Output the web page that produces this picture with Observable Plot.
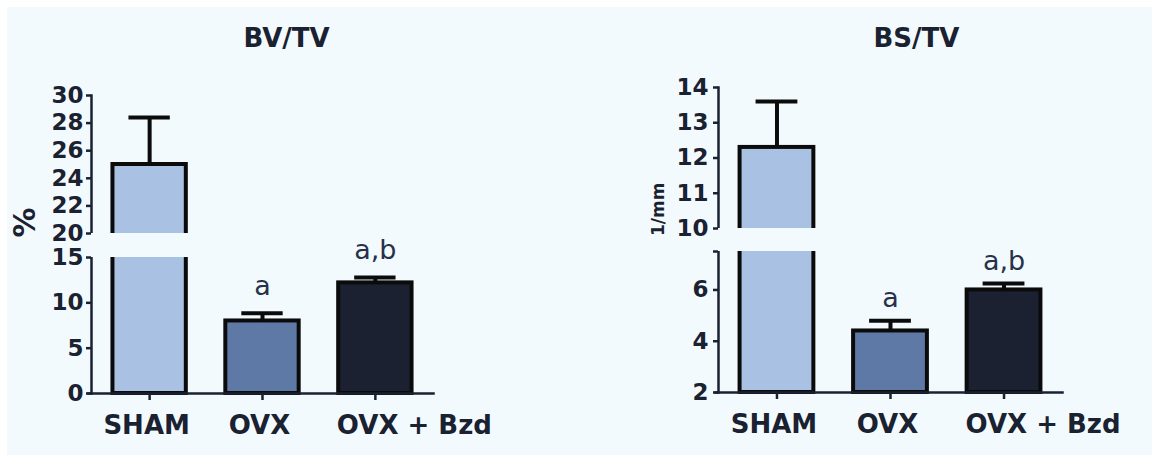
<!DOCTYPE html>
<html><head><meta charset="utf-8">
<script src="https://cdn.jsdelivr.net/npm/d3@7"></script>
<script src="https://cdn.jsdelivr.net/npm/@observablehq/plot@0.6"></script>
<style>
html,body{margin:0;padding:0;background:#fff;}
#wrap{position:relative;width:1152px;height:457px;overflow:hidden;}
#bg{position:absolute;left:7px;top:7px;width:1145px;height:448px;background:#f3fafd;}
.panel{position:absolute;top:0;}
</style></head><body>
<div id="wrap"><div id="bg"></div><div id="p1" class="panel" style="left:0"></div><div id="p2" class="panel" style="left:576px"></div></div>
<script>
const groups = ["SHAM", "OVX", "OVX + Bzd"];
const barColors = ["#a9c1e3", "#5f79a7", "#1b2130"];
const letters = ["", "a", "a,b"];

const bvtvMean = [25.0, 8.0, 12.2];
const bvtvSem = [3.4, 0.85, 0.6];
const bvtvTicks = [0, 5, 10, 15, 20, 22, 24, 26, 28, 30];
const bvtvBreak = [15, 20];
const bvtvExtent = [0, 30];

const bstvMean = [12.3, 4.4, 6.0];
const bstvSem = [1.3, 0.4, 0.25];
const bstvTicks = [2, 4, 6, 7.5, 10, 11, 12, 13, 14];
const bstvBreak = [7.5, 10];
const bstvExtent = [2, 14];

const BG = "#f3fafd";
const INK = "#0b0b0b";
const AXIS = "#1a2130";
const FONT = "DejaVu Sans";

function panel(cfg) {
  const data = groups.map((g, i) => ({group: g, mean: cfg.mean[i], top: cfg.mean[i] + cfg.sem[i], letter: letters[i]}));
  return Plot.plot({
    width: 576, height: 457,
    marginLeft: cfg.ml, marginRight: cfg.mr, marginTop: cfg.mt, marginBottom: cfg.mb,
    style: {background: "transparent", fontFamily: FONT, color: AXIS, overflow: "visible"},
    x: {type: "band", domain: groups, paddingInner: 0.35, paddingOuter: 0.19, round: false, axis: null, label: null},
    y: {type: "linear", domain: [cfg.extent[0], cfg.brk[0], cfg.brk[1], cfg.extent[1]], range: cfg.range, axis: null, label: null},
    color: {domain: groups, range: barColors},
    marks: [
      Plot.barY(data, {x: "group", y1: cfg.extent[0], y2: "mean", fill: "group", stroke: INK, strokeWidth: 4}),
      Plot.ruleX(data, {x: "group", y1: "mean", y2: "top", stroke: INK, strokeWidth: 4}),
      Plot.tickY(data, {x: "group", y: "top", stroke: INK, strokeWidth: 4, inset: 16}),
      Plot.frame({anchor: "left", stroke: AXIS, strokeWidth: 2.5}),
      Plot.rectY([cfg.brk], {y1: d => d[0], y2: d => d[1], fill: BG, insetLeft: -12}),
      Plot.axisY(cfg.ticks, {tickSize: 5, tickPadding: cfg.tp, fontSize: 23, fontWeight: "bold", strokeWidth: 2.5, label: null,
        tickFormat: d => Number.isInteger(d) ? String(d) : ""}),
      Plot.frame({anchor: "bottom", stroke: AXIS, strokeWidth: 2.5, insetLeft: -3}),
      Plot.axisX(groups, {tickSize: 7, strokeWidth: 2.5, tickFormat: () => "", label: null}),
      Plot.axisX(groups.slice(0, 2), {tickSize: 0, tickPadding: 22, dx: -3, fontSize: 26, fontWeight: "bold", label: null}),
      Plot.axisX(groups.slice(2), {tickSize: 0, tickPadding: 22, dx: 39, fontSize: 26, fontWeight: "bold", label: null}),
      Plot.text(data, {x: "group", y: "top", text: "letter", dy: cfg.ldy, lineAnchor: "bottom", fontSize: 27, fill: "#26314a"}),
      Plot.text([cfg.title], {frameAnchor: "top", dx: cfg.tdx, dy: cfg.tdy, lineAnchor: "middle", fontSize: 26, fontWeight: "bold", fill: AXIS}),
      Plot.text([cfg.unit], {frameAnchor: "left", rotate: -90, dx: cfg.udx, dy: cfg.udy, fontSize: cfg.us, fontWeight: "bold", fill: AXIS})
    ]
  });
}

document.getElementById("p1").appendChild(panel({
  title: "BV/TV", unit: "%", mean: bvtvMean, sem: bvtvSem, ticks: bvtvTicks, brk: bvtvBreak, extent: bvtvExtent,
  range: [393, 257, 233, 95], ml: 91, mr: 143, mt: 95, mb: 64, tp: 3,
  ldy: -18, tdx: 24, tdy: -57, udx: -66, udy: -7, us: 30
}));
document.getElementById("p2").appendChild(panel({
  title: "BS/TV", unit: "1/mm", mean: bstvMean, sem: bstvSem, ticks: bstvTicks, brk: bstvBreak, extent: bstvExtent,
  range: [392, 251, 228, 87], ml: 142, mr: 90, mt: 87, mb: 65, tp: 5,
  ldy: -14, tdx: 26, tdy: -49, udx: -60, udy: -4, us: 17
}));
</script>
</body></html>
